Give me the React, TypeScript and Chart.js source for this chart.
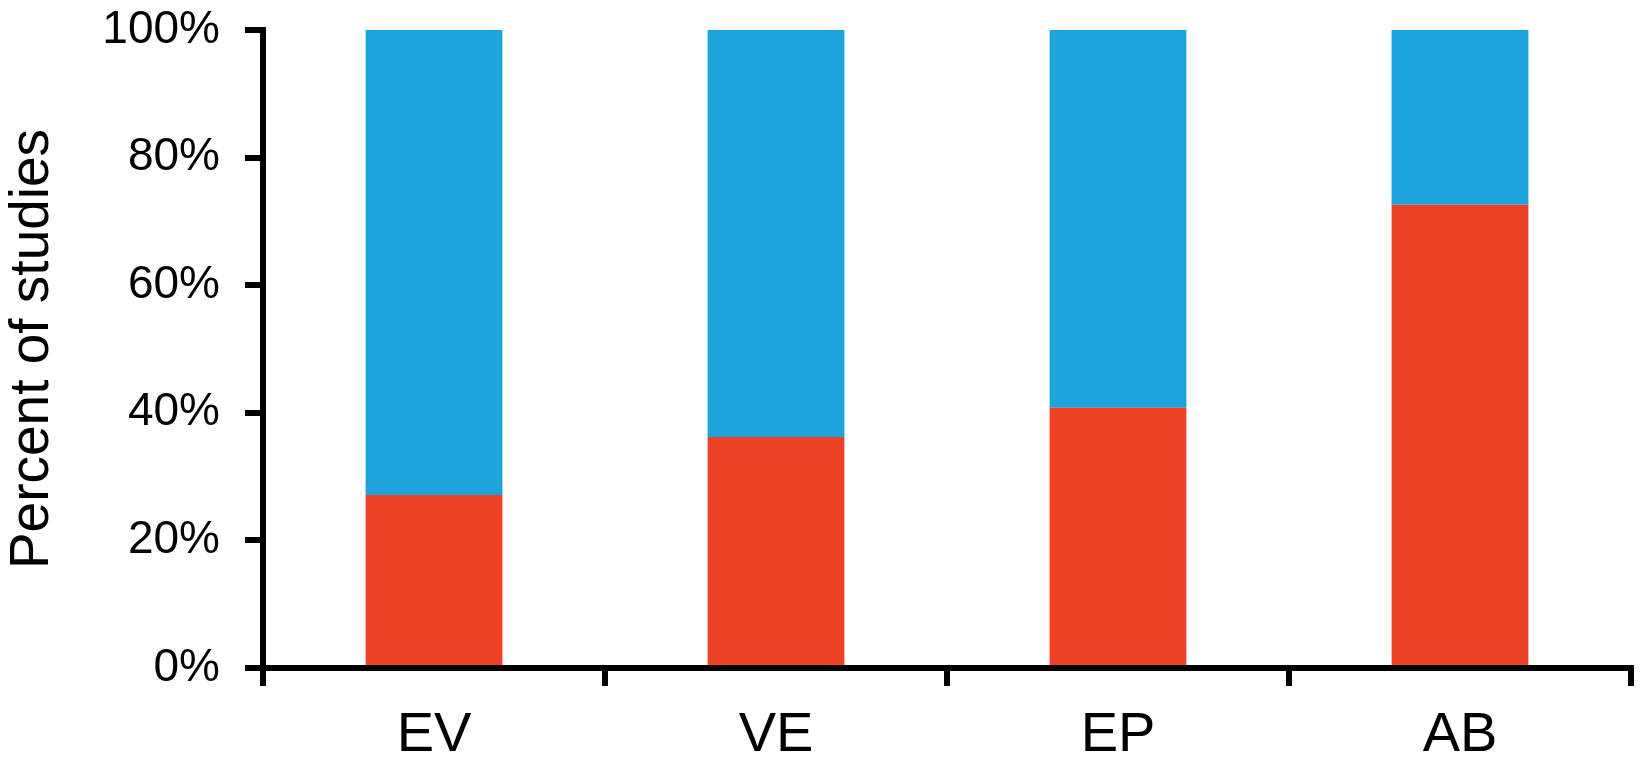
import React, { useEffect, useRef } from "react";
import { Chart, registerables } from "chart.js";

Chart.register(...registerables);

const categories = ["EV", "VE", "EP", "AB"];
const redValues = [27.1, 36.2, 40.8, 72.6];
const blueValues = [72.9, 63.8, 59.2, 27.4];
const yTickValues = [0, 20, 40, 60, 80, 100];
const yTitle = "Percent of studies";

const FONT = "'Liberation Sans', Arial, Helvetica, sans-serif";

export default function App() {
  const ref = useRef<HTMLCanvasElement | null>(null);

  useEffect(() => {
    document.body.style.margin = "0";
    const canvas = ref.current;
    if (!canvas) return;
    const chart = new Chart(canvas, {
      type: "bar",
      data: {
        labels: categories,
        datasets: [
          {
            label: "red",
            data: redValues,
            backgroundColor: "#EE4226",
            borderWidth: 0,
            categoryPercentage: 1,
            barPercentage: 0.4,
          },
          {
            label: "blue",
            data: blueValues,
            backgroundColor: "#1DA4DD",
            borderWidth: 0,
            categoryPercentage: 1,
            barPercentage: 0.4,
          },
        ],
      },
      options: {
        responsive: false,
        animation: false,
        devicePixelRatio: 1,
        layout: { padding: { top: 30, right: 13, bottom: 0, left: 0 } },
        plugins: {
          legend: { display: false },
          tooltip: { enabled: false },
        },
        scales: {
          x: {
            stacked: true,
            offset: true,
            grid: {
              display: true,
              drawOnChartArea: false,
              drawTicks: true,
              tickLength: 18,
              lineWidth: 6,
              color: "#000",
              offset: true,
            },
            border: { display: true, width: 6, color: "#000", z: 1 },
            ticks: {
              color: "#000",
              font: { family: FONT, size: 56 },
              padding: 16,
              maxRotation: 0,
            },
            afterFit: (axis: any) => {
              axis.height = 115;
              axis.paddingLeft = 0;
              axis.paddingRight = 0;
            },
          },
          y: {
            stacked: true,
            min: 0,
            max: 100,
            afterBuildTicks: (axis: any) => {
              axis.ticks = yTickValues.map((v) => ({ value: v }));
            },
            grid: {
              display: true,
              drawOnChartArea: false,
              drawTicks: true,
              tickLength: 18,
              lineWidth: 6,
              color: "#000",
            },
            border: { display: true, width: 6, color: "#000", z: 1 },
            ticks: {
              color: "#000",
              font: { family: FONT, size: 46 },
              padding: 25,
              callback: (v: any) => v + "%",
            },
            title: {
              display: true,
              text: yTitle,
              color: "#000",
              font: { family: FONT, size: 55 },
              padding: { top: 0, bottom: 0 },
            },
            afterFit: (axis: any) => {
              axis.width = 263;
              axis.paddingTop = 0;
              axis.paddingBottom = 0;
            },
          },
        },
      },
    });
    return () => chart.destroy();
  }, []);

  return (
    <canvas
      ref={ref}
      width={1644}
      height={783}
      style={{ display: "block", width: 1644, height: 783 }}
    />
  );
}
